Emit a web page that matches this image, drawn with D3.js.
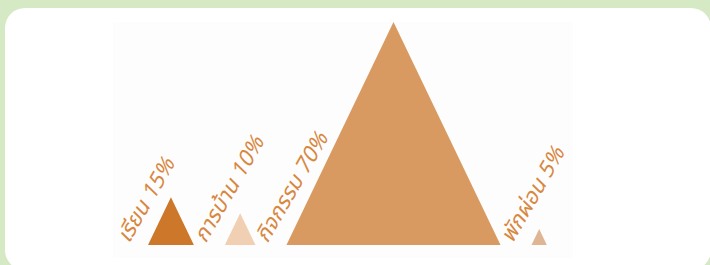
<!DOCTYPE html>
<html>
<head>
<meta charset="utf-8">
<script src="https://cdn.jsdelivr.net/npm/d3@7"></script>
<style>
  html, body { margin: 0; padding: 0; background: #d5e9c4; }
  svg { display: block; }
  .label {
    font-family: 'Noto Sans Thai', 'Loma', 'Garuda', 'Tlwg Typo', sans-serif;
    font-style: italic;
    font-size: 22px;
    fill: #d8873f;
  }
</style>
</head>
<body>
<div id="chart"></div>
<script>
const activities = ['เรียน', 'การบ้าน', 'กิจกรรม', 'พักผ่อน'];
const shares = [15, 10, 70, 5];
const colors = ['#cd772b', '#f0cfb2', '#d89a60', '#dfb593'];

const size = { width: 710, height: 265 };
const baseY = 245;
const startX = 148;
const gap = 31;

const data = activities.map((name, i) => ({
  name: name,
  value: shares[i],
  color: colors[i]
}));

// height of each triangle follows the share
const h = d3.scaleLinear()
  .domain([0, 70])
  .range([0, 223]);

let cursor = startX;
data.forEach((d) => {
  d.height = h(d.value);
  d.width = d.height * 0.96;
  d.x0 = cursor;
  d.x1 = cursor + d.width;
  cursor = d.x1 + gap;
});

const svg = d3.select('#chart')
  .append('svg')
  .attr('width', size.width)
  .attr('height', size.height);

svg.append('rect')
  .attr('x', 5)
  .attr('y', 8)
  .attr('width', 706)
  .attr('height', 262)
  .attr('rx', 20)
  .attr('fill', '#ffffff');

svg.append('rect')
  .attr('x', 113)
  .attr('y', 22)
  .attr('width', 460)
  .attr('height', 236)
  .attr('fill', '#fdfdfd');

const tri = d3.line()
  .x((p) => p[0])
  .y((p) => p[1]);

const groups = svg.selectAll('.item')
  .data(data)
  .enter().append('g')
  .attr('class', 'item');

groups.append('path')
  .attr('d', (d) => tri([
    [d.x0, baseY],
    [(d.x0 + d.x1) / 2, baseY - d.height],
    [d.x1, baseY]
  ]) + 'Z')
  .attr('fill', (d) => d.color);

groups.append('text')
  .attr('class', 'label')
  .attr('transform', (d) => `translate(${d.x0 - 19},${baseY - 1}) rotate(-60)`)
  .text((d) => `${d.name} ${d.value}%`);
</script>
</body>
</html>
